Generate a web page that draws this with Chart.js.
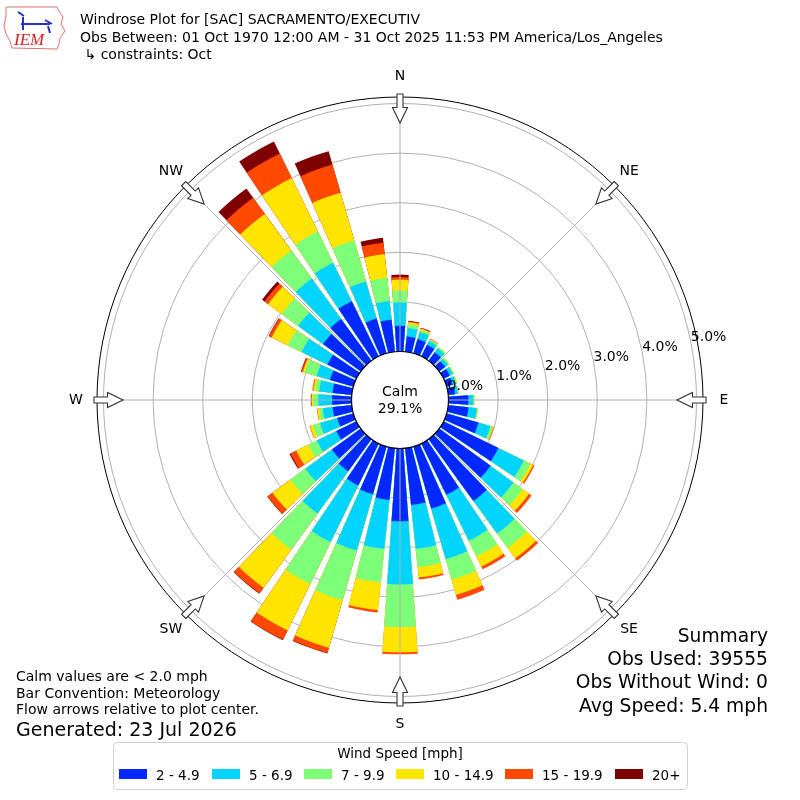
<!DOCTYPE html>
<html><head><meta charset="utf-8">
<script src="https://cdn.jsdelivr.net/npm/chart.js@4/dist/chart.umd.min.js"></script>
<style>html,body{margin:0;padding:0;background:#fff;}canvas{display:block;}</style>
</head><body>
<canvas id="c" width="800" height="800"></canvas>
<script>
// ---------------- data ----------------
const directions = [10,20,30,40,50,60,70,80,90,100,110,120,130,140,150,160,170,180,190,200,210,220,230,240,250,260,270,280,290,300,310,320,330,340,350,360];
const speedBins = ['2 - 4.9','5 - 6.9','7 - 9.9','10 - 14.9','15 - 19.9','20+'];
const spd2to5   = [0.31,0.30,0.26,0.21,0.15,0.14,0.13,0.14,0.40,0.41,0.67,1.23,1.28,1.54,1.15,1.30,1.15,1.47,1.05,1.00,0.94,0.80,0.72,0.45,0.34,0.39,0.39,0.39,0.49,0.65,0.94,1.04,1.24,0.73,0.65,0.52];
const spd5to7   = [0.17,0.15,0.09,0.10,0.07,0.07,0.07,0.06,0.10,0.17,0.25,0.57,0.57,0.81,1.03,1.06,0.89,1.27,0.99,1.18,1.27,1.05,0.66,0.44,0.36,0.20,0.28,0.27,0.28,0.58,0.62,1.01,0.86,0.78,0.38,0.47];
const spd7to10  = [0.08,0.04,0.03,0.03,0.03,0.02,0.02,0.01,0.02,0.02,0.04,0.15,0.23,0.36,0.35,0.43,0.37,0.86,0.68,1.04,0.94,0.90,0.37,0.19,0.15,0.07,0.10,0.08,0.25,0.31,0.41,0.70,0.70,0.86,0.47,0.24];
const spd10to15 = [0.04,0.03,0.01,0.01,0.01,0.01,0.01,0.01,0.01,0.01,0.02,0.06,0.16,0.26,0.23,0.32,0.21,0.51,0.56,1.00,1.04,0.95,0.45,0.27,0.06,0.04,0.03,0.04,0.04,0.36,0.34,0.91,1.20,1.00,0.48,0.22];
const spd15to20 = [0.02,0.01,0.01,0.00,0.00,0.00,0.00,0.00,0.00,0.00,0.01,0.03,0.06,0.06,0.06,0.10,0.04,0.04,0.05,0.11,0.21,0.14,0.12,0.13,0.01,0.01,0.02,0.02,0.03,0.06,0.09,0.40,0.55,0.59,0.23,0.05];
const spd20plus = [0.01,0.01,0.00,0.00,0.00,0.00,0.00,0.00,0.00,0.00,0.00,0.00,0.00,0.00,0.00,0.00,0.00,0.00,0.00,0.01,0.01,0.01,0.01,0.02,0.00,0.00,0.00,0.00,0.01,0.01,0.06,0.23,0.27,0.28,0.10,0.05];
const radialTicks = [0,1,2,3,4,5];
const compassLabels = ['N','NE','E','SE','S','SW','W','NW'];
const calmPct = 29.1;
const titleLines = ['Windrose Plot for [SAC] SACRAMENTO/EXECUTIV',
  'Obs Between: 01 Oct 1970 12:00 AM - 31 Oct 2025 11:53 PM America/Los_Angeles',
  ' \u21b3 constraints: Oct'];
const noteLines = ['Calm values are < 2.0 mph','Bar Convention: Meteorology','Flow arrows relative to plot center.'];
const generatedText = 'Generated: 23 Jul 2026';
const summaryLines = ['Summary','Obs Used: 39555','Obs Without Wind: 0','Avg Speed: 5.4 mph'];
const legendTitle = 'Wind Speed [mph]';

// ---------------- styling / scale config ----------------
const binColors = ['#0028ff','#00d4ff','#7dff7a','#ffe500','#ff4800','#7f0000'];
const rMin = -0.9778, rMax = 5.1311;
const barSpan = 8, gapSpan = 2;
const FONT = '"DejaVu Sans", "Liberation Sans", sans-serif';

// order the sectors clockwise starting at north (360 deg first)
const order = directions.map((d, i) => i).sort((a, b) => (directions[a] % 360) - (directions[b] % 360));
const binValues = [spd2to5, spd5to7, spd7to10, spd10to15, spd15to20, spd20plus];
const cumulative = [];
binValues.forEach((arr, k) => {
  cumulative.push(arr.map((v, i) => (k ? cumulative[k-1][i] : 0) + v));
});
const datasets = cumulative.map((cum, k) => ({
  label: speedBins[k],
  data: order.flatMap(i => [binValues[k][i] > 0 ? cum[i] : rMin, rMin]),
  backgroundColor: binColors[k],
  borderWidth: 0,
  angle: ctx => (ctx.dataIndex % 2 === 0 ? barSpan : gapSpan)
}));

const overlay = {
  id: 'overlay',
  afterDraw(chart) {
    const ctx = chart.ctx;
    const s = chart.scales.r;
    const cx = s.xCenter, cy = s.yCenter;
    const R = v => s.getDistanceFromCenterForValue(v);
    const rOuter = R(rMax);
    ctx.save();
    // compass lines
    ctx.strokeStyle = '#b0b0b0'; ctx.lineWidth = 1;
    compassLabels.forEach((lab, k) => {
      const a = (k * 45 - 90) * Math.PI / 180;
      ctx.beginPath(); ctx.moveTo(cx, cy);
      ctx.lineTo(cx + rOuter * Math.cos(a), cy + rOuter * Math.sin(a)); ctx.stroke();
    });
    // calm circle
    ctx.beginPath(); ctx.arc(cx, cy, R(0), 0, Math.PI * 2);
    ctx.fillStyle = '#fff'; ctx.fill();
    ctx.strokeStyle = '#000'; ctx.lineWidth = 1.2; ctx.stroke();
    ctx.fillStyle = '#000'; ctx.textAlign = 'center'; ctx.textBaseline = 'alphabetic';
    ctx.font = '14px ' + FONT;
    ctx.fillText('Calm', cx, cy - 4);
    ctx.fillText(calmPct.toFixed(1) + '%', cx, cy + 13);
    // radial tick labels
    const la = 11.25 * Math.PI / 180;
    ctx.textAlign = 'left';
    radialTicks.forEach(v => {
      const r = R(v);
      ctx.fillText(v.toFixed(1) + '%', cx + r * Math.cos(la), cy - r * Math.sin(la) - 1);
    });
    // arrows + labels
    compassLabels.forEach((lab, k) => {
      const a = (k * 45 - 90) * Math.PI / 180;
      const ux = Math.cos(a), uy = Math.sin(a), px = -uy, py = ux;
      const P = (u, w) => [cx + u * ux + w * px, cy + u * uy + w * py];
      const pts = [P(306,-3),P(292.5,-3),P(292.5,-7.5),P(277,0),P(292.5,7.5),P(292.5,3),P(306,3)];
      ctx.beginPath(); ctx.moveTo(pts[0][0], pts[0][1]);
      pts.slice(1).forEach(p => ctx.lineTo(p[0], p[1])); ctx.closePath();
      ctx.fillStyle = '#fff'; ctx.fill();
      ctx.strokeStyle = '#333'; ctx.lineWidth = 1.1; ctx.stroke();
      const [lx, ly] = P(rOuter + 21, 0);
      ctx.fillStyle = '#000'; ctx.textAlign = 'center'; ctx.textBaseline = 'middle';
      ctx.font = '14px ' + FONT;
      ctx.fillText(lab, lx, ly);
    });
    ctx.textBaseline = 'alphabetic';
    // title
    ctx.textAlign = 'left'; ctx.font = '14px ' + FONT; ctx.fillStyle = '#000';
    titleLines.forEach((t, i) => ctx.fillText(t, 80, 24 + i * 17.5));
    // logo
    ctx.strokeStyle = '#e07070'; ctx.lineWidth = 1;
    ctx.beginPath();
    [[6,7],[57,7],[59,11],[63,17],[61,24],[65,31],[60,38],[59,44],[57,49],[12,48],[10,41],[6,34],[4,26],[6,16]].forEach((p,i)=> i?ctx.lineTo(p[0],p[1]):ctx.moveTo(p[0],p[1]));
    ctx.closePath(); ctx.stroke();
    ctx.strokeStyle = '#2233cc'; ctx.lineWidth = 2;
    ctx.beginPath(); ctx.moveTo(21,24); ctx.lineTo(50,24); ctx.moveTo(23,17); ctx.lineTo(23,30);
    ctx.moveTo(45,20); ctx.lineTo(52,24); ctx.moveTo(48,26); ctx.lineTo(50,33);
    ctx.moveTo(18,12); ctx.lineTo(24,16); ctx.stroke();
    ctx.fillStyle = '#d42020'; ctx.font = 'italic 17px "Liberation Serif", "DejaVu Serif", serif';
    ctx.fillText('IEM', 14, 45);
    // notes
    ctx.fillStyle = '#000'; ctx.font = '14px ' + FONT;
    noteLines.forEach((t, i) => ctx.fillText(t, 16, 681 + i * 16.7));
    ctx.font = '19px ' + FONT;
    ctx.fillText(generatedText, 16, 736);
    // summary
    ctx.textAlign = 'right';
    ctx.font = '18.7px ' + FONT;
    summaryLines.forEach((t, i) => ctx.fillText(t, 768, 642 + i * 23.2));
    // legend
    ctx.textAlign = 'left';
    ctx.beginPath();
    ctx.roundRect(113.5, 742.5, 574, 47, 4);
    ctx.fillStyle = '#fff'; ctx.fill();
    ctx.strokeStyle = '#cfcfcf'; ctx.lineWidth = 1; ctx.stroke();
    ctx.fillStyle = '#000'; ctx.font = '13.5px ' + FONT; ctx.textAlign = 'center';
    ctx.fillText(legendTitle, 400, 758);
    ctx.textAlign = 'left';
    const rectX = [119, 212, 304, 396, 505, 615];
    chart.data.datasets.forEach((ds, k) => {
      ctx.fillStyle = ds.backgroundColor;
      ctx.fillRect(rectX[k], 769, 28, 10);
      ctx.fillStyle = '#000';
      ctx.fillText(ds.label, rectX[k] + 37, 779.5);
    });
    ctx.restore();
  }
};

new Chart(document.getElementById('c'), {
  type: 'polarArea',
  data: { labels: order.flatMap(i => [directions[i] + '\u00b0', '']), datasets },
  options: {
    responsive: false,
    animation: false,
    events: [],
    layout: { padding: 97 },
    plugins: { legend: { display: false }, tooltip: { enabled: false } },
    scales: {
      r: {
        type: 'radialLinear',
        min: rMin, max: rMax,
        startAngle: -barSpan / 2,
        afterBuildTicks: sc => { sc.ticks = radialTicks.concat([rMax]).map(v => ({ value: v })); },
        ticks: { display: false, z: 1 },
        grid: { circular: true, lineWidth: 1,
          color: c => (c.tick && c.tick.value > 5.01 ? '#000' : '#b0b0b0') },
        angleLines: { display: false },
        pointLabels: { display: false }
      }
    }
  },
  plugins: [overlay]
});
</script>
</body></html>
